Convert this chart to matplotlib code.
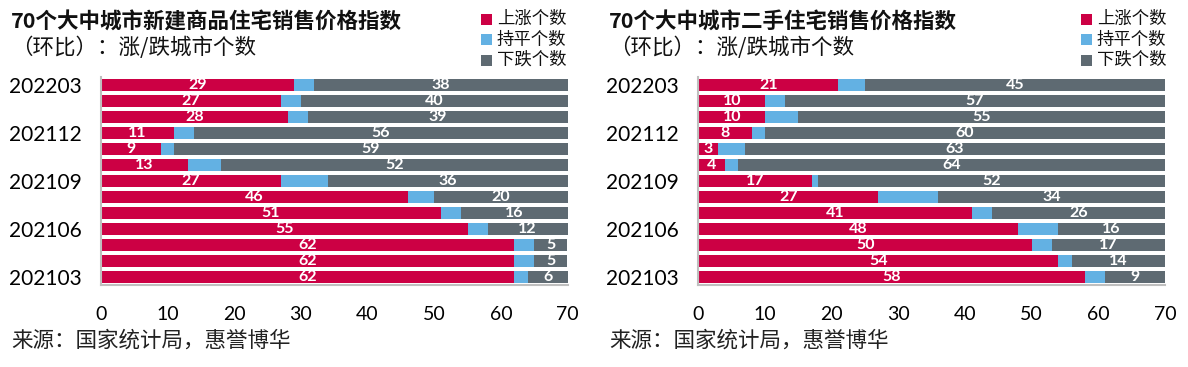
import matplotlib
matplotlib.use("Agg")
import matplotlib.pyplot as plt
from matplotlib.patches import Rectangle

months = ["202203", "202202", "202201", "202112", "202111", "202110", "202109",
          "202108", "202107", "202106", "202105", "202104", "202103"]
shown_ticks = ["202203", "202112", "202109", "202106", "202103"]

new_up = [29, 27, 28, 11, 9, 13, 27, 46, 51, 55, 62, 62, 62]
new_flat = [3, 3, 3, 3, 2, 5, 7, 4, 3, 3, 3, 3, 2]
new_down = [38, 40, 39, 56, 59, 52, 36, 20, 16, 12, 5, 5, 6]

sec_up = [21, 10, 10, 8, 3, 4, 17, 27, 41, 48, 50, 54, 58]
sec_flat = [4, 3, 5, 2, 4, 2, 1, 9, 3, 6, 3, 2, 3]
sec_down = [45, 57, 55, 60, 63, 64, 52, 34, 26, 16, 17, 14, 9]

titles = ["70个大中城市新建商品住宅销售价格指数", "70个大中城市二手住宅销售价格指数"]
subtitle = "（环比）：涨/跌城市个数"
legend_labels = ["上涨个数", "持平个数", "下跌个数"]
source = "来源：国家统计局，惠誉博华"
xticks = [0, 10, 20, 30, 40, 50, 60, 70]

RED = "#CC0044"
BLUE = "#63B1E3"
GRAY = "#5E6A72"
colors = [RED, BLUE, GRAY]

CJK = ["Noto Sans CJK SC", "DejaVu Sans"]
NUM = ["Lato", "DejaVu Sans"]

W, H = 1188, 367
fig = plt.figure(figsize=(W / 100, H / 100), dpi=100)


def fx(px):
    return px / W


def fy(py):
    return 1 - py / H


panels = [
    (101, 0, (new_up, new_flat, new_down), titles[0], 481),
    (698.5, 598, (sec_up, sec_flat, sec_down), titles[1], 1081),
]

for ax_left, off, (up, flat, down), title, leg_x in panels:
    ax = fig.add_axes([fx(ax_left), fy(285), 466.5 / W, 208 / H])
    y = list(range(len(months)))
    left2 = [a + b for a, b in zip(up, flat)]
    c1 = ax.barh(y, up, height=0.75, color=RED, linewidth=0)
    ax.barh(y, flat, left=up, height=0.75, color=BLUE, linewidth=0)
    c3 = ax.barh(y, down, left=left2, height=0.75, color=GRAY, linewidth=0)
    for c in (c1, c3):
        ax.bar_label(c, label_type="center", color="white", fontsize=11.5,
                     fontfamily=NUM, fontweight="bold")
    ax.set_ylim(12.5, -0.5)
    ax.set_xlim(0, 70)
    tick_pos = [months.index(m) for m in shown_ticks]
    ax.set_yticks(tick_pos)
    ax.set_yticklabels(shown_ticks, fontfamily=NUM, fontsize=15)
    ax.set_xticks(xticks)
    ax.set_xticklabels([str(v) for v in xticks], fontfamily=NUM, fontsize=14)
    ax.tick_params(axis="y", length=0, pad=14)
    ax.tick_params(axis="x", length=0, pad=15)
    for s in ("top", "right"):
        ax.spines[s].set_visible(False)
    for s in ("left", "bottom"):
        ax.spines[s].set_color("#BFBFBF")
        ax.spines[s].set_linewidth(1.5)

    fig.text(fx(11 + off), fy(22), title, fontfamily=CJK, fontsize=15.5,
             fontweight="bold", va="center", ha="left", color="#111111")
    fig.text(fx(11 + off), fy(48), subtitle, fontfamily=CJK, fontsize=15.5,
             va="center", ha="left", color="#111111")
    for i, (lab, col) in enumerate(zip(legend_labels, colors)):
        cy = 19 + i * 20.5
        fig.patches.append(Rectangle((fx(leg_x), fy(cy + 5.5)), 11 / W, 11 / H,
                                     transform=fig.transFigure, color=col,
                                     linewidth=0))
        fig.text(fx(leg_x + 16), fy(cy), lab, fontfamily=CJK, fontsize=12.5,
                 va="center", ha="left", color="#111111")
    fig.text(fx(11 + off), fy(341), source, fontfamily=CJK, fontsize=15.5,
             va="center", ha="left", color="#222222")

fig.savefig("out.png", dpi=100)
